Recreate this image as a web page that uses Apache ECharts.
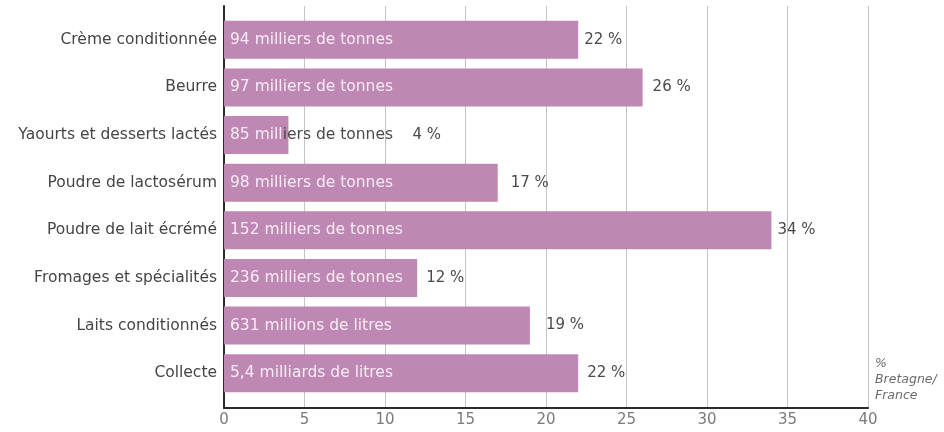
<!DOCTYPE html>
<html>
<head>
<meta charset="utf-8">
<script src="https://cdn.jsdelivr.net/npm/echarts@6/dist/echarts.min.js"></script>
<style>
  html, body { margin: 0; padding: 0; background: #fff; }
  #chart { width: 944px; height: 432px; }
</style>
</head>
<body>
<div id="chart"></div>
<script>
// Dairy products: Brittany's share of French production (%)
const categories = [
  'Crème conditionnée',
  'Beurre',
  'Yaourts et desserts lactés',
  'Poudre de lactosérum',
  'Poudre de lait écrémé',
  'Fromages et spécialités',
  'Laits conditionnés',
  'Collecte'
];
const sharePct = [22, 26, 4, 17, 34, 12, 19, 22];
const volumes = [
  '94 milliers de tonnes',
  '97 milliers de tonnes',
  '85 milliers de tonnes',
  '98 milliers de tonnes',
  '152 milliers de tonnes',
  '236 milliers de tonnes',
  '631 millions de litres',
  '5,4 milliards de litres'
];
const xTicks = [0, 5, 10, 15, 20, 25, 30, 35, 40];

// styling
const BAR = '#be87b4';
const FONT = 'DejaVu Sans';
const pctGap = [6, 10, 124, 13, 6, 9, 16, 9];   // space between bar end and % label
const innerSplit = [0, 0, 7, 0, 0, 0, 0, 0];    // chars drawn light before text leaves the bar

const chart = echarts.init(document.getElementById('chart'), null, { renderer: 'canvas' });

const L = 224, R = 76;

chart.setOption({
  animation: false,
  backgroundColor: '#fff',
  textStyle: { fontFamily: FONT },
  grid: [
    { left: L, right: R, top: 6, bottom: 24 },   // frame: gridlines and axes
    { left: L, right: R, top: 16, bottom: 35 }   // bars
  ],
  xAxis: [
    {
      gridIndex: 0, type: 'value', min: xTicks[0], max: xTicks[xTicks.length - 1], interval: 5,
      axisLine: { show: true, lineStyle: { color: '#2a2a2a', width: 2 } },
      axisTick: { show: false },
      axisLabel: { color: '#7a7a7a', fontSize: 15, margin: 5, fontFamily: FONT },
      splitLine: { show: true, lineStyle: { color: '#c4c4c4', width: 1 } }
    },
    {
      gridIndex: 1, type: 'value', min: xTicks[0], max: xTicks[xTicks.length - 1],
      show: false, splitLine: { show: false }
    }
  ],
  yAxis: [
    {
      gridIndex: 0, type: 'value', min: 0, max: 1,
      axisLine: { show: true, lineStyle: { color: '#2a2a2a', width: 2 } },
      axisTick: { show: false }, axisLabel: { show: false }, splitLine: { show: false }
    },
    {
      gridIndex: 1, type: 'category', data: categories, inverse: true,
      axisLine: { show: false }, axisTick: { show: false },
      axisLabel: { color: '#454545', fontSize: 15.5, margin: 7, fontFamily: FONT },
      splitLine: { show: false }
    }
  ],
  series: [
    {
      type: 'bar', xAxisIndex: 1, yAxisIndex: 1, barWidth: 38,
      itemStyle: { color: BAR },
      data: sharePct,
      z: 2,
      label: {
        show: true, position: 'insideLeft', distance: 6,
        fontSize: 15.5, fontFamily: FONT, color: '#f7ecf4',
        formatter: p => {
          const t = volumes[p.dataIndex];
          const k = innerSplit[p.dataIndex];
          return k ? '{a|' + t.slice(0, k) + '}{b|' + t.slice(k) + '}' : t;
        },
        rich: {
          a: { color: '#f7ecf4', fontSize: 15.5, fontFamily: FONT },
          b: { color: '#4a4a4a', fontSize: 15.5, fontFamily: FONT }
        }
      }
    },
    {
      type: 'bar', xAxisIndex: 1, yAxisIndex: 1, barWidth: 38, barGap: '-100%',
      itemStyle: { color: 'rgba(0,0,0,0)' },
      z: 3,
      data: sharePct.map((v, i) => ({ value: v, label: { distance: pctGap[i] } })),
      label: {
        show: true, position: 'right',
        fontSize: 15, fontFamily: FONT, color: '#4a4a4a',
        formatter: p => p.value + ' %'
      }
    }
  ],
  graphic: [
    {
      type: 'text', left: 875, top: 356,
      style: {
        text: '%\nBretagne/\nFrance',
        fill: '#6a6a6a', font: 'italic 12.5px ' + FONT, lineHeight: 16
      }
    }
  ]
});
</script>
</body>
</html>
